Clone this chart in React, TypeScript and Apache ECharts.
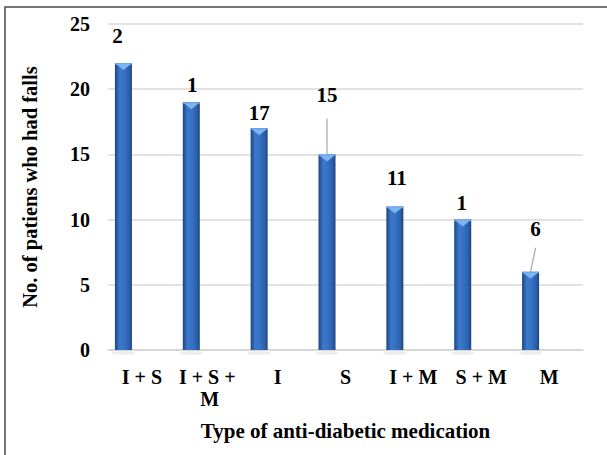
import React, { useEffect, useRef } from "react";
import * as echarts from "echarts";

// Falls by type of anti-diabetic medication
const categories = ["I + S", "I + S + M", "I", "S", "I + M", "S + M", "M"];
const fallCounts = [22, 19, 17, 15, 11, 10, 6];
const labelTexts = ["2", "1", "17", "15", "11", "1", "6"];
const yTicks = { min: 0, max: 25, interval: 5 };

// label placement tweaks (px, relative to the default "top" position)
const labelShift: [number, number][] = [
  [-6, -11.5],
  [1, -1.5],
  [0, 0.5],
  [0, -43.5],
  [2, -13.5],
  [-1, -1.5],
  [5, -27.5],
];
// leader lines: [category index, dx of upper end, dy of upper end] from the bar top
const leaders: [number, number, number][] = [
  [3, 0, -36],
  [6, 5, -24],
];

const FONT = "'Liberation Serif', 'Times New Roman', serif";
const BAR_W = 17;
const BAR_GAP_PX = 20;
const SHIFT = -(BAR_W + BAR_GAP_PX) / 2;

export default function App() {
  const ref = useRef<HTMLDivElement>(null);

  useEffect(() => {
    if (!ref.current) return;
    const chart = echarts.init(ref.current, undefined, { renderer: "svg" });

    const barGradient = new echarts.graphic.LinearGradient(0, 0, 1, 0, [
      { offset: 0, color: "#1b4682" },
      { offset: 0.28, color: "#3c78cb" },
      { offset: 0.55, color: "#3771c2" },
      { offset: 0.85, color: "#2a5ea8" },
      { offset: 1, color: "#1a427c" },
    ]);

    chart.setOption({
      animation: false,
      backgroundColor: "#ffffff",
      graphic: [
        {
          type: "rect",
          shape: { x: 5, y: 7, width: 700, height: 500 },
          style: { fill: "none", stroke: "#4a4a4a", lineWidth: 1.5 },
          silent: true,
        },
      ],
      grid: { left: 108, right: 24, top: 24, bottom: 105 },
      xAxis: {
        type: "category",
        data: categories,
        name: "Type of anti-diabetic medication",
        nameLocation: "middle",
        nameGap: 70,
        nameTextStyle: { fontFamily: FONT, fontWeight: "bold", fontSize: 21, color: "#000" },
        axisLine: { show: true, lineStyle: { color: "#d4d4d4", width: 1.5 } },
        axisTick: { show: false },
        axisLabel: {
          interval: 0,
          margin: 15.5,
          fontFamily: FONT,
          fontWeight: "bold",
          fontSize: 20,
          color: "#000",
          width: 66,
          overflow: "break",
          lineHeight: 22,
        },
      },
      yAxis: {
        type: "value",
        min: yTicks.min,
        max: yTicks.max,
        interval: yTicks.interval,
        name: "No. of patiens who had falls",
        nameLocation: "middle",
        nameGap: 67.5,
        nameTextStyle: { fontFamily: FONT, fontWeight: "bold", fontSize: 20.5, color: "#000" },
        axisLine: { show: false },
        axisTick: { show: false },
        axisLabel: { margin: 18, fontFamily: FONT, fontWeight: "bold", fontSize: 20, color: "#000" },
        splitLine: { lineStyle: { color: "#d9d9d9", width: 1.5 } },
      },
      series: [
        {
          type: "bar",
          barWidth: BAR_W,
          barGap: `${(BAR_GAP_PX / BAR_W) * 100}%`,
          itemStyle: { color: barGradient },
          data: fallCounts.map((v, i) => ({
            value: v,
            label: {
              show: true,
              position: "top",
              distance: 5,
              offset: labelShift[i],
              formatter: labelTexts[i],
              fontFamily: FONT,
              fontWeight: "bold",
              fontSize: 21,
              color: "#000",
            },
          })),
          z: 2,
        },
        {
          // empty companion series that reserves space to the right of each bar
          type: "bar",
          barWidth: BAR_W,
          data: fallCounts.map(() => null),
          silent: true,
        },
        {
          // cap highlight and base shadow of each bar
          type: "custom",
          z: 3,
          silent: true,
          data: fallCounts.map((v, i) => [i, v]),
          renderItem: (params: any, api: any) => {
            const top = api.coord([api.value(0), api.value(1)]);
            const base = api.coord([api.value(0), 0]);
            const cx = top[0] + SHIFT;
            const h = BAR_W / 2;
            return {
              type: "group",
              children: [
                {
                  type: "ellipse",
                  shape: { cx, cy: base[1] + 3, rx: 12, ry: 2 },
                  style: { fill: "rgba(0,0,0,0.07)" },
                  z2: -1,
                },
                {
                  type: "rect",
                  shape: { x: cx - h, y: top[1], width: BAR_W, height: 1.5 },
                  style: { fill: "#6ea6ea" },
                },
                {
                  type: "polygon",
                  shape: {
                    points: [
                      [cx - h + 1, top[1] + 1],
                      [cx + h - 1, top[1] + 1],
                      [cx, top[1] + 7],
                    ],
                  },
                  style: { fill: "#7cb4f2" },
                },
              ],
            };
          },
        },
        {
          // leader lines from moved labels down to their bars
          type: "custom",
          z: 3,
          silent: true,
          data: leaders.map(([i, dx, dy]) => [i, fallCounts[i], dx, dy]),
          renderItem: (params: any, api: any) => {
            const top = api.coord([api.value(0), api.value(1)]);
            const cx = top[0] + SHIFT;
            return {
              type: "line",
              shape: { x1: cx + api.value(2), y1: top[1] + api.value(3), x2: cx, y2: top[1] },
              style: { stroke: "#a6a6a6", lineWidth: 1.2 },
            };
          },
        },
      ],
    });

    return () => chart.dispose();
  }, []);

  return (
    <div
      ref={ref}
      style={{ position: "fixed", left: 0, top: 0, width: 607, height: 455, background: "#fff" }}
    />
  );
}
